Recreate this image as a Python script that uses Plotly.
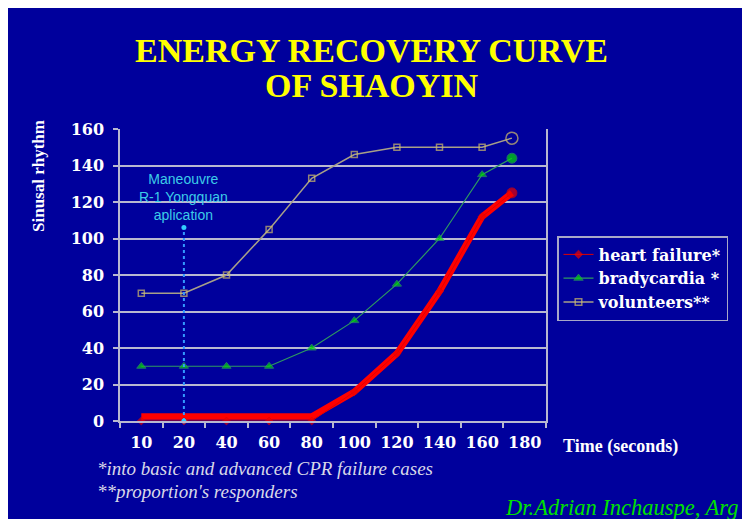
import plotly.graph_objects as go

# ---- data ----
categories = ["10", "20", "40", "60", "80", "100", "120", "140", "160", "180"]
x_pos = [0, 1, 2, 3, 4, 5, 6, 7, 8, 8.7]          # category index of each reading (last reading sits between 160 and 180)
heart_failure = [0, 0, 0, 0, 0, 16, 37, 71, 112, 125]
heart_highlight = [2.5, 2.5, 2.5, 2.5, 2.5, 16, 37, 71, 112, 125]
bradycardia = [30, 30, 30, 30, 40, 55, 75, 100, 135, 144]
volunteers = [70, 70, 80, 105, 133, 146, 150, 150, 150, 155]
manoeuvre_x = [1, 1]
manoeuvre_y = [0, 106]
y_ticks = [0, 20, 40, 60, 80, 100, 120, 140, 160]

BG = "#00009C"
GRID = "#B8B8D0"
SERIF = "Liberation Serif"
WIDE = "DejaVu Serif"

fig = go.Figure()

fig.add_trace(go.Scatter(
    x=x_pos, y=heart_highlight, mode="lines",
    line=dict(color="#FF0000", width=6.5), showlegend=False, hoverinfo="skip",
    cliponaxis=False))

fig.add_trace(go.Scatter(
    x=x_pos, y=heart_failure, mode="lines+markers", name="heart failure*",
    line=dict(color="#E00000", width=1),
    marker=dict(symbol=["diamond"] * 9 + ["circle"], size=[6] * 9 + [10],
                color="#EE0000"),
    cliponaxis=False))

fig.add_trace(go.Scatter(
    x=x_pos, y=bradycardia, mode="lines+markers", name="bradycardia *",
    line=dict(color="#2E9A60", width=1.2),
    marker=dict(symbol=["triangle-up"] * 9 + ["circle"], size=[8] * 9 + [10],
                color="#00E000"),
    cliponaxis=False))

fig.add_trace(go.Scatter(
    x=x_pos, y=volunteers, mode="lines+markers", name="volunteers**",
    line=dict(color="#A8A088", width=1.5),
    marker=dict(symbol=["square-open"] * 9 + ["circle-open"], size=[6] * 9 + [12],
                color="#D0BC6A", line=dict(width=1.5, color="#D0BC6A")),
    cliponaxis=False))

fig.add_trace(go.Scatter(
    x=manoeuvre_x, y=manoeuvre_y, mode="lines+markers",
    line=dict(color="#3399FF", width=2, dash="dot"),
    marker=dict(symbol="circle", size=5, color="#33CCFF"),
    showlegend=False, hoverinfo="skip", cliponaxis=False))

annotations = [
    dict(text="ENERGY RECOVERY CURVE", x=0.5915, y=1.2705, xref="paper", yref="paper",
         showarrow=False, xanchor="center", yanchor="middle",
         font=dict(family=SERIF, size=34, color="#FFFF00", weight="bold")),
    dict(text="OF SHAOYIN", x=0.5915, y=1.1473, xref="paper", yref="paper",
         showarrow=False, xanchor="center", yanchor="middle",
         font=dict(family=SERIF, size=34, color="#FFFF00", weight="bold")),
    dict(text="Sinusal rhythm", x=-0.1925, y=0.839, xref="paper", yref="paper",
         showarrow=False, textangle=-90, xanchor="center", yanchor="middle",
         font=dict(family=SERIF, size=17, color="white", weight="bold")),
    dict(text="Time (seconds)", x=1.176, y=-0.089, xref="paper", yref="paper",
         showarrow=False, xanchor="center", yanchor="middle",
         font=dict(family=SERIF, size=18, color="white", weight="bold")),
    dict(text="Maneouvre<br>R-1 Yongquan<br>aplication", x=1, y=106, xref="x", yref="y",
         showarrow=False, xanchor="center", yanchor="bottom", yshift=3,
         font=dict(family="Liberation Sans", size=14, color="#3CCCE8")),
    dict(text="<i>*into basic and advanced CPR failure cases</i>", x=-0.0587, y=-0.164,
         xref="paper", yref="paper", showarrow=False, xanchor="left", yanchor="middle",
         font=dict(family=SERIF, size=19, color="#D8D8E8")),
    dict(text="<i>**proportion's responders</i>", x=-0.0587, y=-0.240,
         xref="paper", yref="paper", showarrow=False, xanchor="left", yanchor="middle",
         font=dict(family=SERIF, size=19, color="#D8D8E8")),
    dict(text="<i>Dr.Adrian Inchauspe, Arg</i>", x=(503 - 120) / 426, y=(421 - 507) / 292,
         xref="paper", yref="paper", showarrow=False, xanchor="left", yanchor="middle",
         font=dict(family=SERIF, size=22.5, color="#00E000")),
]

fig.update_layout(
    width=750, height=519, autosize=False,
    margin=dict(l=112, r=212, t=121, b=106, pad=0),
    paper_bgcolor=BG, plot_bgcolor=BG,
    showlegend=True,
    legend=dict(x=(557 - 120) / 426, y=(421 - 236) / 292, xanchor="left", yanchor="top",
                bgcolor=BG, bordercolor="#A8A8C8", borderwidth=1.5,
                font=dict(family=WIDE, size=16, color="white", weight="bold"),
                itemwidth=30, tracegroupgap=0),
    annotations=annotations,
    xaxis=dict(range=[-0.5, 9.5], tickmode="array", tickvals=list(range(len(categories))),
               ticktext=categories, ticks="", showgrid=False, zeroline=False,
               showline=True, linecolor=GRID, linewidth=1.5,
               ticklabelstandoff=6,
               tickfont=dict(family=WIDE, size=16, color="white", weight="bold"),
               minor=dict(tickmode="linear", tick0=-0.5, dtick=1, ticks="outside",
                          ticklen=5, tickcolor=GRID, tickwidth=1.5, showgrid=False)),
    yaxis=dict(range=[0, 160], tickmode="array", tickvals=y_ticks,
               ticks="outside", ticklen=5, tickcolor=GRID, tickwidth=1.5,
               showgrid=True, gridcolor=GRID, gridwidth=1.5, zeroline=False,
               showline=True, mirror=True, linecolor=GRID, linewidth=1.5,
               ticklabelstandoff=6,
               tickfont=dict(family=WIDE, size=16, color="white", weight="bold")),
)

fig.write_html("out.html")
